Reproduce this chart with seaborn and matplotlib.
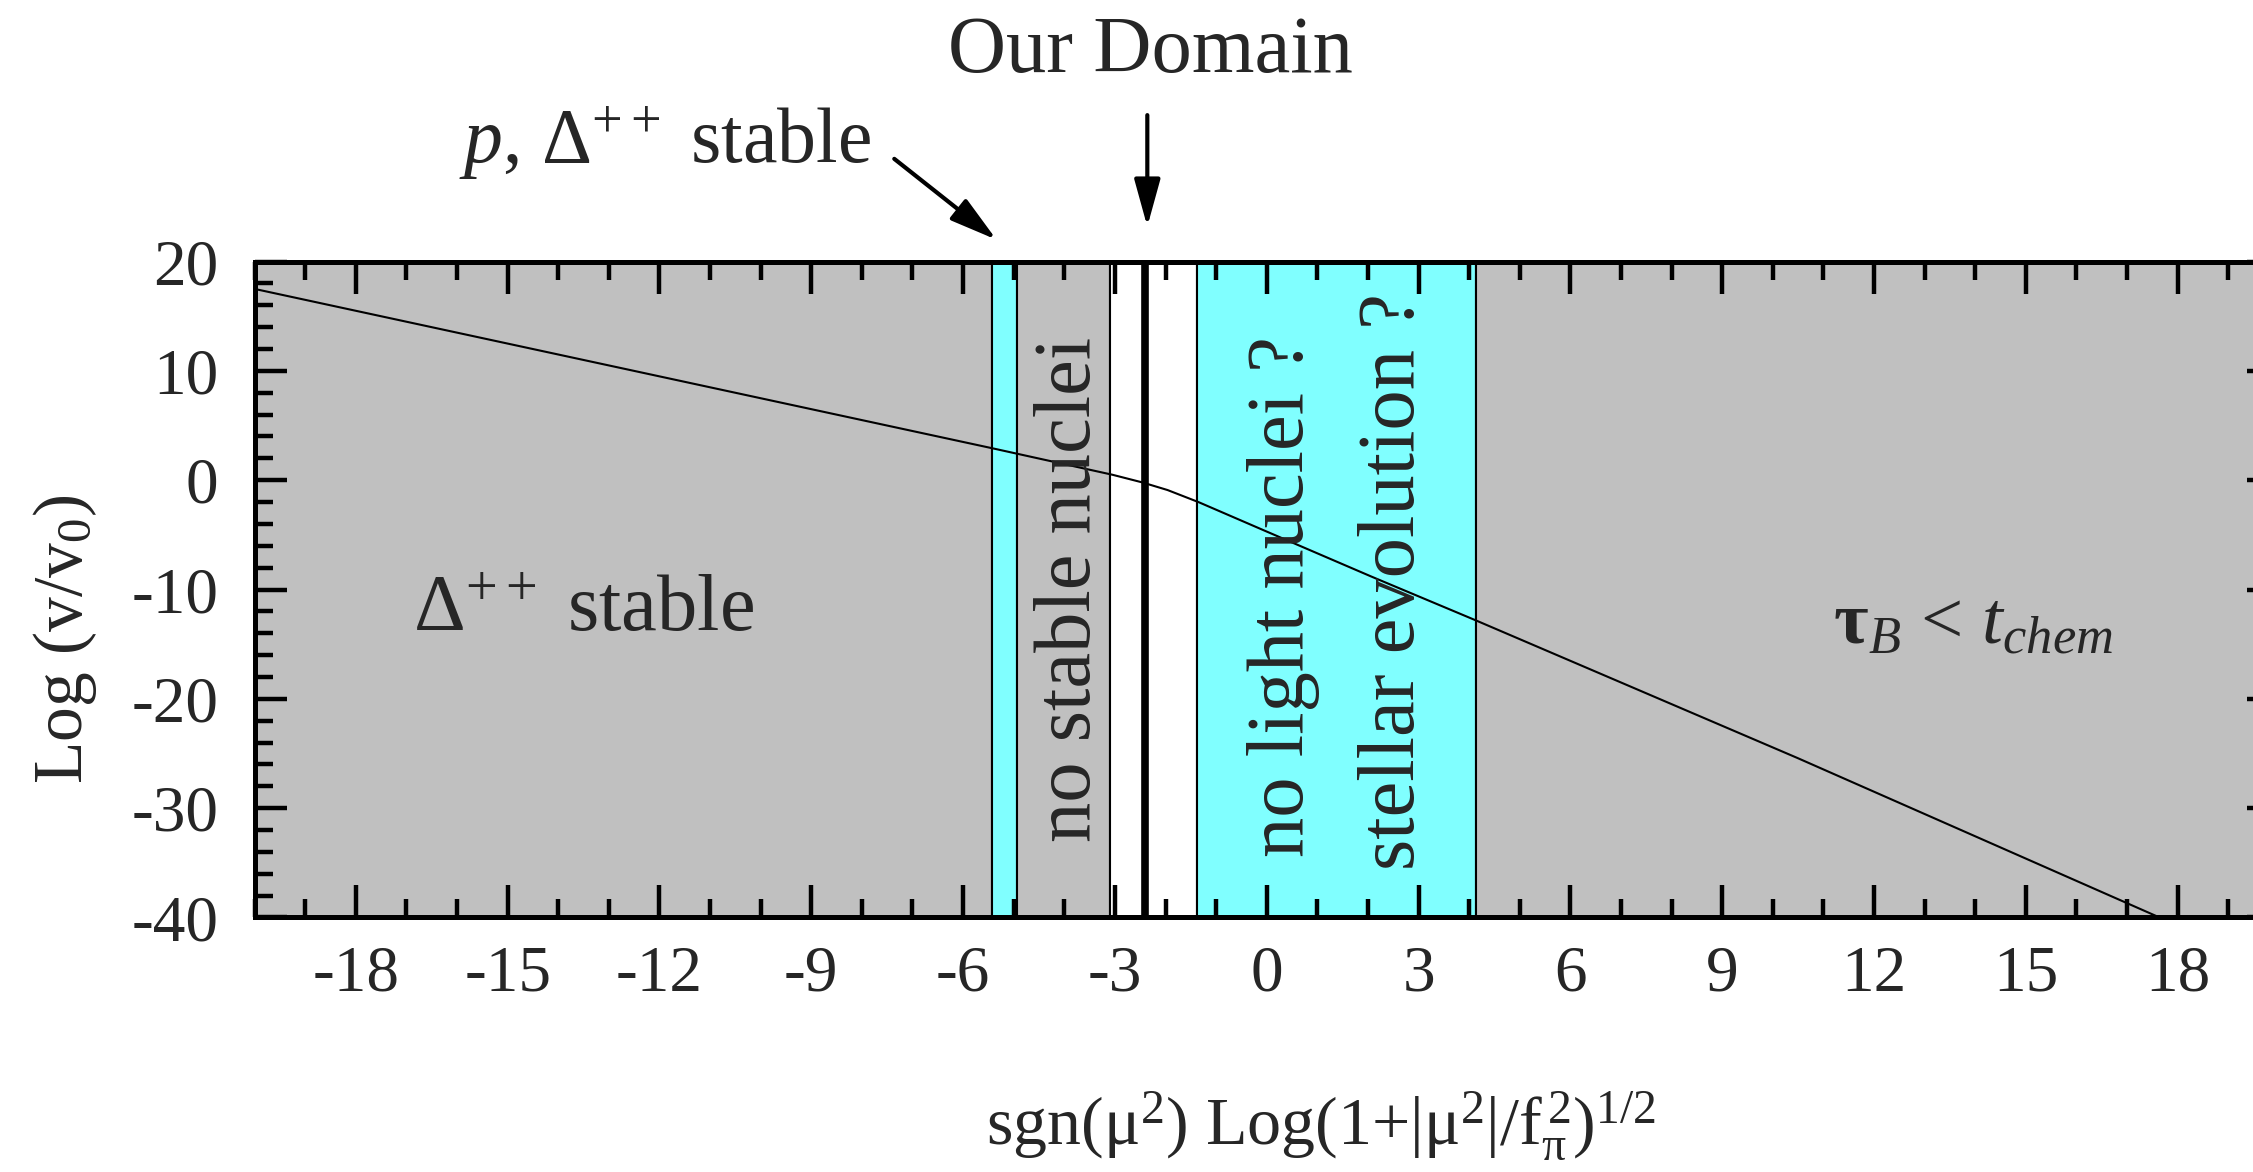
import numpy as np
import pandas as pd
import matplotlib
matplotlib.use('Agg')
import matplotlib.pyplot as plt
from matplotlib.ticker import MultipleLocator
import seaborn as sns

# curve
curve_x = [-20.0, -5.4, -3.05, -2.46, -1.96, -1.35, 0.0, 2.06, 4.12, 10.48, 17.64]
curve_y = [17.5, 2.9, 0.5, -0.2, -0.9, -2.0, -4.7, -8.8, -12.8, -25.4, -40.0]

# vertical bands (edges in x) and their fill colours
band_edges = [-20.0, -5.42, -4.93, -3.09, -1.37, 4.13, 20.0]
band_colors = ['#c0c0c0', '#80ffff', '#c0c0c0', '#ffffff', '#80ffff', '#c0c0c0']
domain_x = -2.41

xticks = [-18, -15, -12, -9, -6, -3, 0, 3, 6, 9, 12, 15, 18]
yticks = [20, 10, 0, -10, -20, -30, -40]

sns.set_style('ticks')
plt.rcParams['font.family'] = ['Liberation Serif', 'DejaVu Serif']
plt.rcParams['mathtext.fontset'] = 'custom'
plt.rcParams['mathtext.rm'] = 'Liberation Serif'
plt.rcParams['mathtext.it'] = 'Liberation Serif:italic'
plt.rcParams['mathtext.bf'] = 'Liberation Serif:bold'
plt.rcParams['axes.unicode_minus'] = False

fig = plt.figure(figsize=(22.53, 11.72), dpi=100)
ax = fig.add_axes([0.113, 0.2172, 0.8985, 0.5596])

for i, c in enumerate(band_colors):
    ax.axvspan(band_edges[i], band_edges[i + 1], facecolor=c, edgecolor='black',
               linewidth=1.5, zorder=0)
ax.axvline(domain_x, color='black', linewidth=5.5, zorder=1)

df = pd.DataFrame({'x': curve_x, 'y': curve_y})
sns.lineplot(data=df, x='x', y='y', color='black', linewidth=1.5, ax=ax, zorder=3,
             sort=False, clip_on=True)

ax.set_xlim(-20, 20)
ax.set_ylim(-40, 20)
ax.set_xticks(xticks)
ax.set_yticks(yticks)
ax.xaxis.set_minor_locator(MultipleLocator(1))
ax.yaxis.set_minor_locator(MultipleLocator(2))
ax.tick_params(which='both', direction='in', top=True, right=True, width=3.2, color='black')
ax.tick_params(which='major', length=23)
ax.tick_params(which='minor', length=13)
ax.tick_params(axis='y', which='major', labelsize=47, pad=26)
ax.tick_params(axis='x', which='major', labelsize=47, pad=20)
for s in ax.spines.values():
    s.set_linewidth(3.6)
    s.set_color('black')

ax.set_xlabel(r'sgn(μ$^2$) Log(1+|μ$^2$|/f$_{\mathrm{π}}^{\,2}$)$^{1/2}$', fontsize=49)
ax.xaxis.set_label_coords(0.527, -0.262)
ax.set_ylabel(r'Log (v/v$_0$)', fontsize=50)
ax.yaxis.set_label_coords(-0.077, 0.425)

big = 58
ax.text(-13.5, -12, r'Δ$^{++}$ stable', fontsize=big, ha='center', va='center')
ax.text(-3.87, -9.95, 'no stable nuclei', fontsize=big, rotation=90, ha='center', va='center')
ax.text(0.33, -10.6, 'no light nuclei ?', fontsize=big, rotation=90, ha='center', va='center')
ax.text(2.52, -9.3, 'stellar evolution ?', fontsize=big, rotation=90, ha='center', va='center')
ax.text(13.96, -13.3, r'$\mathbf{τ}_{B}$ < $t_{chem}$', fontsize=54, ha='center', va='center')

ax.text(-11.9, 30.8, r'$p$, Δ$^{++}$ stable', fontsize=56, ha='center', va='center',
        clip_on=False)
ax.text(-2.3, 39.1, 'Our Domain', fontsize=big, ha='center', va='center', clip_on=False)

arrow = dict(arrowstyle='-|>,head_length=0.58,head_width=0.16', color='black',
             lw=3, mutation_scale=50, shrinkA=0, shrinkB=0)
ax.annotate('', xy=(-5.34, 22.0), xytext=(-7.36, 29.4), arrowprops=arrow,
            annotation_clip=False)
ax.annotate('', xy=(-2.36, 23.2), xytext=(-2.36, 33.4), arrowprops=arrow,
            annotation_clip=False)

fig.savefig('out.png', dpi=100)
